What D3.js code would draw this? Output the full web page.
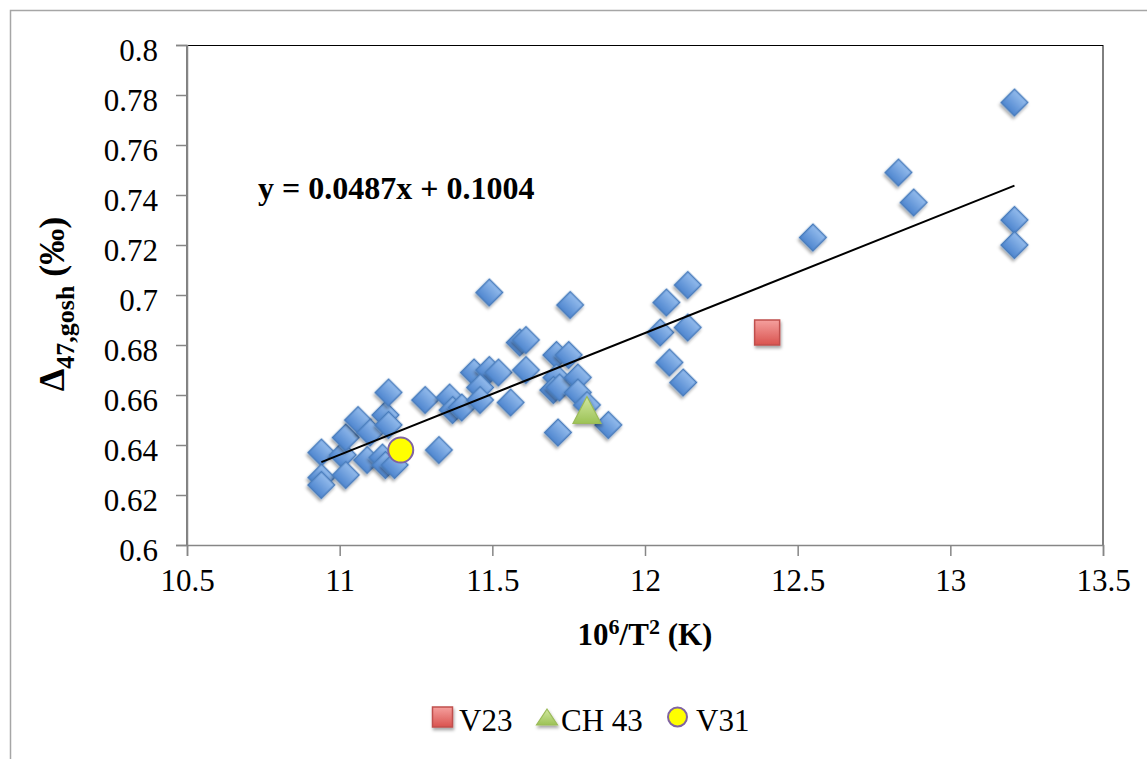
<!DOCTYPE html>
<html>
<head>
<meta charset="utf-8">
<script src="https://cdn.jsdelivr.net/npm/d3@7"></script>
<style>
  html, body { margin: 0; padding: 0; background: #fff; }
  svg { display: block; }
  text { font-family: "Liberation Serif", "Times New Roman", serif; fill: #000; }
</style>
</head>
<body>
<svg id="chart" width="1147" height="759"></svg>
<script>
// Measured samples: 10^6/T^2 (K) against Δ47 on the gosh scale (‰)
const sampleX = [10.94, 10.94, 10.94, 11.01, 11.02, 11.02, 11.06, 11.10, 11.09, 11.15,
                 11.16, 11.16, 11.14, 11.15, 11.18, 11.325, 11.28, 11.36, 11.37, 11.40,
                 11.44, 11.49, 11.52, 11.46, 11.46, 11.56, 11.49, 11.59, 11.61, 11.61,
                 11.755, 11.71, 11.75, 11.71, 11.70, 11.72, 11.78, 11.78, 11.81, 11.88,
                 11.715, 12.14, 12.07, 12.05, 12.14, 12.08, 12.125, 12.55, 12.83, 12.88,
                 13.21, 13.21, 13.21];
const sampleY = [0.637, 0.627, 0.624, 0.636, 0.643, 0.628, 0.650, 0.645, 0.634, 0.652,
                 0.648, 0.661, 0.635, 0.632, 0.632, 0.638, 0.658, 0.659, 0.654, 0.655,
                 0.669, 0.670, 0.669, 0.663, 0.658, 0.657, 0.701, 0.681, 0.682, 0.670,
                 0.696, 0.676, 0.676, 0.667, 0.662, 0.663, 0.667, 0.661, 0.656, 0.648,
                 0.645, 0.704, 0.697, 0.685, 0.687, 0.673, 0.665, 0.723, 0.749, 0.737,
                 0.777, 0.730, 0.720];

// Highlighted samples
const v23 = [12.40, 0.685];
const ch43 = [11.81, 0.654];
const v31 = [11.20, 0.638];

// Linear fit
const fitSlope = 0.0487;
const fitIntercept = 0.1004;
const fitLabel = "y = 0.0487x + 0.1004";

// Axis ticks
const xTicks = [10.5, 11, 11.5, 12, 12.5, 13, 13.5];
const yTicks = [0.6, 0.62, 0.64, 0.66, 0.68, 0.7, 0.72, 0.74, 0.76, 0.78, 0.8];

const legendItems = ["V23", "CH 43", "V31"];

const svg = d3.select("#chart");
const plot = { left: 187, top: 45, right: 1103, bottom: 545 };

const x = d3.scaleLinear().domain([10.5, 13.5]).range([plot.left, plot.right]);
const y = d3.scaleLinear().domain([0.6, 0.8]).range([plot.bottom, plot.top]);

const defs = svg.append("defs");
function vGrad(id, top, bottom) {
  const g = defs.append("linearGradient").attr("id", id)
    .attr("x1", 0).attr("y1", 0).attr("x2", 0).attr("y2", 1);
  g.append("stop").attr("offset", "0%").attr("stop-color", top);
  g.append("stop").attr("offset", "100%").attr("stop-color", bottom);
}
vGrad("gBlue", "#93bbec", "#4f86cf");
vGrad("gRed", "#f5a09e", "#d9534f");
vGrad("gGreen", "#d2e8a0", "#9cc256");

const shadow = defs.append("filter").attr("id", "shadow")
  .attr("x", "-50%").attr("y", "-50%").attr("width", "200%").attr("height", "200%");
shadow.append("feDropShadow").attr("dx", 1).attr("dy", 2.5)
  .attr("stdDeviation", 1.8).attr("flood-color", "#000").attr("flood-opacity", 0.35);

// Chart frame
svg.append("rect").attr("x", 10.5).attr("y", 10.5)
  .attr("width", 1200).attr("height", 800)
  .attr("fill", "none").attr("stroke", "#a6a6a6").attr("stroke-width", 1.5);

// Plot area border
svg.append("rect").attr("x", plot.left).attr("y", plot.top + 0.5)
  .attr("width", plot.right - plot.left).attr("height", plot.bottom - plot.top)
  .attr("fill", "none").attr("stroke", "#000").attr("stroke-width", 1);

// Axes
const yAxis = d3.axisLeft(y).tickValues(yTicks).tickSize(11).tickPadding(18)
  .tickFormat(d => d3.format("")(+d.toFixed(2)));
const gy = svg.append("g").attr("transform", `translate(${plot.left},0)`).call(yAxis);
gy.selectAll("text").attr("font-size", 31).attr("dy", "0.5em")
  .style("font-family", '"Liberation Serif", serif');

const xAxis = d3.axisBottom(x).tickValues(xTicks).tickSize(11).tickPadding(10)
  .tickFormat(d => String(d));
const gx = svg.append("g").attr("transform", `translate(0,${plot.bottom})`).call(xAxis);
gx.selectAll("text").attr("font-size", 31).attr("dy", "0.8em")
  .style("font-family", '"Liberation Serif", serif');

[gx, gy].forEach(g => {
  g.select(".domain").attr("stroke", "#868686").attr("stroke-width", 1.5);
  g.selectAll(".tick line").attr("stroke", "#868686").attr("stroke-width", 1.5);
});

// Sample markers
const diamond = d3.symbol().type(d3.symbolSquare).size(13.3 * 13.3 * 2);
svg.append("g").selectAll("path")
  .data(sampleX.map((v, i) => [v, sampleY[i]]))
  .join("path")
  .attr("d", diamond)
  .attr("transform", d => `translate(${x(d[0])},${y(d[1])}) rotate(45)`)
  .attr("fill", "url(#gBlue)")
  .attr("stroke", "#4a7dbd").attr("stroke-width", 1.5)
  .attr("filter", "url(#shadow)");

// Fit line across the sample range
const xMin = d3.min(sampleX), xMax = d3.max(sampleX);
svg.append("line")
  .attr("x1", x(xMin)).attr("y1", y(fitSlope * xMin + fitIntercept))
  .attr("x2", x(xMax)).attr("y2", y(fitSlope * xMax + fitIntercept))
  .attr("stroke", "#000").attr("stroke-width", 2);

// Highlighted markers
function square(g, cx, cy, s) {
  g.append("rect").attr("x", cx - s / 2).attr("y", cy - s / 2)
    .attr("width", s).attr("height", s)
    .attr("fill", "url(#gRed)").attr("stroke", "#c0504d").attr("stroke-width", 1.5)
    .attr("filter", "url(#shadow)");
}
function triangle(g, cx, cy, w, h) {
  g.append("path")
    .attr("d", `M${cx},${cy - h / 2} L${cx + w / 2},${cy + h / 2} L${cx - w / 2},${cy + h / 2} Z`)
    .attr("fill", "url(#gGreen)").attr("stroke", "#9bbb59").attr("stroke-width", 1.2)
    .attr("filter", "url(#shadow)");
}
function circle(g, cx, cy, r) {
  g.append("circle").attr("cx", cx).attr("cy", cy).attr("r", r)
    .attr("fill", "#ffff00").attr("stroke", "#8064a2").attr("stroke-width", 2);
}
const hl = svg.append("g");
square(hl, x(v23[0]), y(v23[1]), 25);
triangle(hl, x(ch43[0]), y(ch43[1]), 28, 27);
circle(hl, x(v31[0]), y(v31[1]), 12.5);

// Fit equation
svg.append("text").attr("x", 258).attr("y", 199)
  .attr("font-size", 32).attr("font-weight", "bold").text(fitLabel);

// Axis titles
const xt = svg.append("text").attr("x", (plot.left + plot.right) / 2).attr("y", 645)
  .attr("text-anchor", "middle").attr("font-size", 31).attr("font-weight", "bold");
xt.append("tspan").text("10");
xt.append("tspan").attr("font-size", 22).attr("dy", -11).text("6");
xt.append("tspan").attr("dy", 11).text("/T");
xt.append("tspan").attr("font-size", 22).attr("dy", -11).text("2");
xt.append("tspan").attr("dy", 11).text(" (K)");

const yt = svg.append("text")
  .attr("transform", "translate(64,304) rotate(-90)")
  .attr("text-anchor", "middle").attr("font-weight", "bold").attr("font-size", 36);
yt.append("tspan").text("Δ");
yt.append("tspan").attr("font-size", 26).attr("dy", 10).text("47,gosh");
yt.append("tspan").attr("dy", -10).text(" (‰)");

// Legend
const lg = svg.append("g");
square(lg, 442.5, 717, 20);
lg.append("text").attr("x", 459).attr("y", 731).attr("font-size", 31).text(legendItems[0]);
triangle(lg, 547, 717, 21, 16);
lg.append("text").attr("x", 561).attr("y", 731).attr("font-size", 31).text(legendItems[1]);
circle(lg, 677.5, 717, 9.5);
lg.append("text").attr("x", 696).attr("y", 731).attr("font-size", 31).text(legendItems[2]);
</script>
</body>
</html>
